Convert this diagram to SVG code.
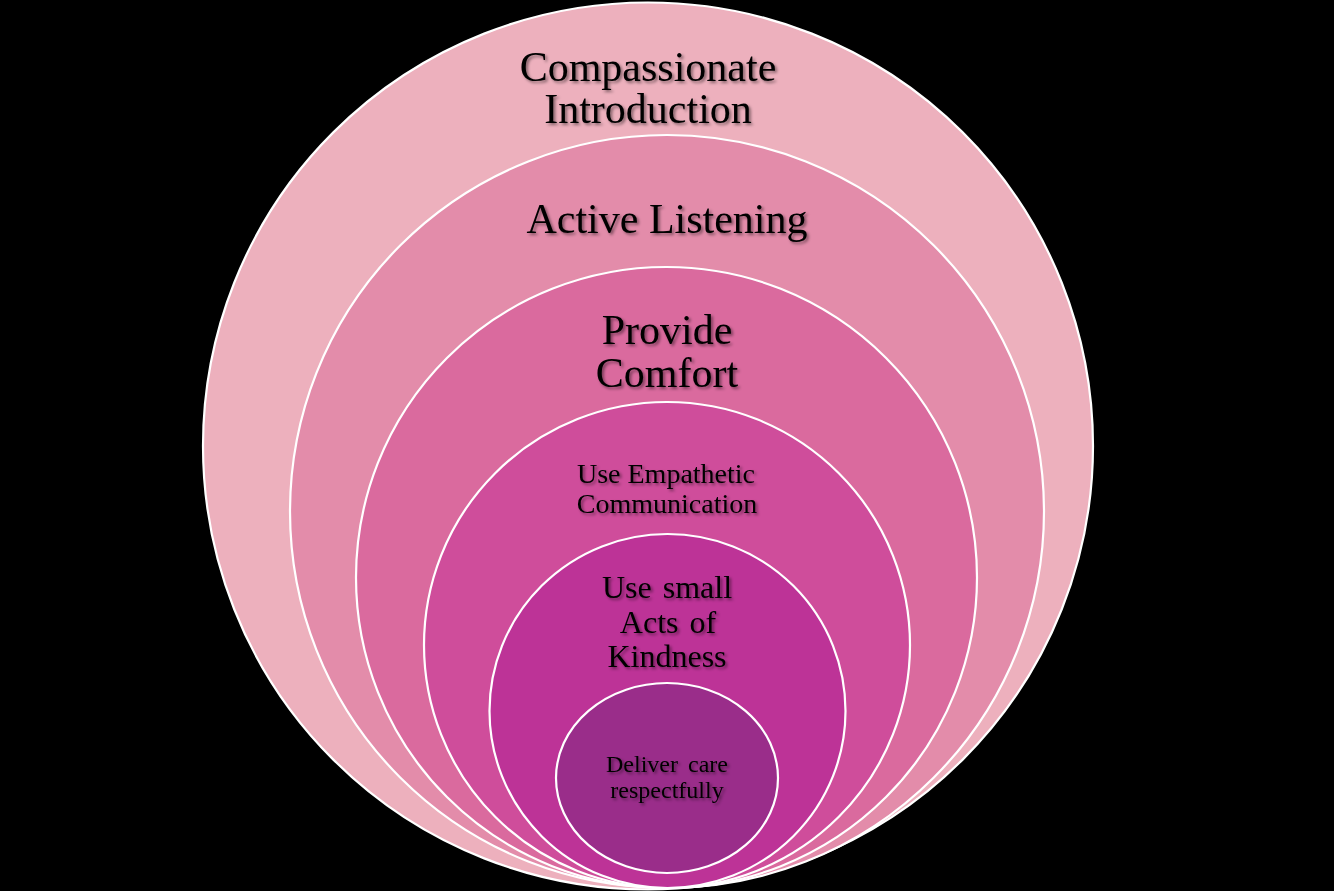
<svg xmlns="http://www.w3.org/2000/svg" width="1334" height="891" viewBox="0 0 1334 891">
<defs>
<filter id="sh" x="-10%" y="-30%" width="120%" height="160%">
<feDropShadow dx="2" dy="2" stdDeviation="1.4" flood-color="#000" flood-opacity="0.45"/>
</filter>
</defs>
<style>
.c{stroke:#ffffff;stroke-width:2.2}
.t{font-family:"Liberation Serif","Times New Roman",serif;fill:#000;text-anchor:middle;filter:url(#sh)}
</style>
<rect width="1334" height="891" fill="#000"/>
<g id="n1"><ellipse class="c" cx="648" cy="446" rx="445" ry="443.5" fill="#EDB0BD"/>
<text class="t" font-size="42"><tspan x="648" y="81">Compassionate</tspan><tspan x="648" y="123">Introduction</tspan></text></g>
<g id="n2"><ellipse class="c" cx="667" cy="511.5" rx="377" ry="376.5" fill="#E38CAA"/>
<text class="t" font-size="42" x="667" y="233">Active Listening</text></g>
<g id="n3"><ellipse class="c" cx="666.5" cy="577.5" rx="310.5" ry="310.5" fill="#DA6A9E"/>
<text class="t" font-size="42"><tspan x="667" y="344">Provide</tspan><tspan x="667" y="387">Comfort</tspan></text></g>
<g id="n4"><ellipse class="c" cx="667" cy="645" rx="243" ry="243" fill="#CF4D9B"/>
<text class="t" font-size="28"><tspan x="666" y="483">Use Empathetic</tspan><tspan x="667" y="513">Communication</tspan></text></g>
<g id="n5"><ellipse class="c" cx="667.5" cy="711" rx="178" ry="177" fill="#BD3397"/>
<text class="t" font-size="32"><tspan x="667" y="598" word-spacing="3">Use small</tspan><tspan x="668" y="633" word-spacing="3">Acts of</tspan><tspan x="667" y="667">Kindness</tspan></text></g>
<g id="n6"><ellipse class="c" cx="667" cy="778" rx="111" ry="95" fill="#9A2D8A"/>
<text class="t" font-size="24"><tspan x="667" y="772" word-spacing="4">Deliver care</tspan><tspan x="667" y="798">respectfully</tspan></text></g>
<g id="connectors"></g>
</svg>
